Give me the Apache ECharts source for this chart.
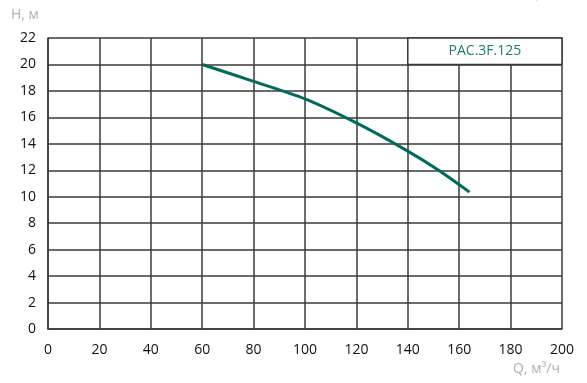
<!DOCTYPE html>
<html><head><meta charset="utf-8">
<script src="https://cdn.jsdelivr.net/npm/echarts@6/dist/echarts.min.js"></script>
<style>html,body{margin:0;padding:0;background:#fff}#c{width:587px;height:383px}</style>
</head><body><div id="c"></div>
<script>
const flowQ = [60, 80, 100, 120, 140, 152, 164];
const headH = [20, 18.72, 17.4, 15.58, 13.45, 12.0, 10.35];
const seriesName = 'PAC.3F.125';
const xTicks = [0, 20, 40, 60, 80, 100, 120, 140, 160, 180, 200];
const yTicks = [0, 2, 4, 6, 8, 10, 12, 14, 16, 18, 20, 22];
const xAxisName = 'Q, м³/ч';
const yAxisName = 'H, м';

const FONT = '"Open Sans", "Noto Sans", sans-serif';
const LINE = '#3a3a3a';
const chart = echarts.init(document.getElementById('c'), null, {renderer: 'canvas'});
chart.setOption({
  animation: false,
  backgroundColor: '#fff',
  grid: {left: 48, right: 25, top: 38, bottom: 54},
  xAxis: {
    type: 'value', min: xTicks[0], max: xTicks[xTicks.length - 1], interval: 20,
    axisLine: {show: true, lineStyle: {color: LINE, width: 1.5}},
    axisTick: {show: false},
    axisLabel: {color: '#111', fontSize: 14, fontFamily: FONT, margin: 14},
    splitLine: {show: true, lineStyle: {color: LINE, width: 1.5}}
  },
  yAxis: {
    type: 'value', min: yTicks[0], max: yTicks[yTicks.length - 1], interval: 2,
    axisLine: {show: true, lineStyle: {color: LINE, width: 1.5}},
    axisTick: {show: false},
    axisLabel: {color: '#111', fontSize: 14, fontFamily: FONT, margin: 12},
    splitLine: {show: true, lineStyle: {color: LINE, width: 1.5}}
  },
  graphic: [
    {type: 'text', left: 11, top: 8, style: {text: yAxisName, fill: '#b0b0b0', font: '14px ' + FONT}},
    {type: 'text', right: 27, top: 362, style: {text: xAxisName, fill: '#b0b0b0', font: '14px ' + FONT}},
    {type: 'text', right: 12, top: -13, style: {text: xAxisName, fill: '#b0b0b0', font: '14px ' + FONT}}
  ],
  series: [{
    type: 'line', name: seriesName, smooth: 0.3, showSymbol: false,
    data: flowQ.map((q, i) => [q, headH[i]]),
    lineStyle: {color: '#006b5a', width: 3},
    markArea: {
      silent: true,
      itemStyle: {color: '#fff', borderColor: LINE, borderWidth: 1.5},
      label: {show: true, position: 'inside', color: '#1e7a6e', fontSize: 14, fontFamily: FONT},
      data: [[{xAxis: 140, yAxis: 20, name: seriesName}, {xAxis: 200, yAxis: 22}]]
    }
  }]
});
</script></body></html>
